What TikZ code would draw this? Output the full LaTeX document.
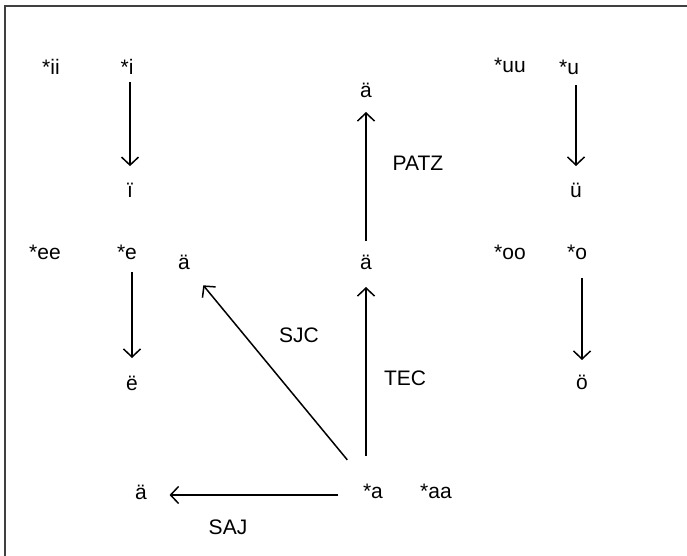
\documentclass[tikz,border=0pt]{standalone}
\usepackage{fontspec}
\setmainfont{Liberation Sans}
\usetikzlibrary{arrows.meta}
\begin{document}
\begin{tikzpicture}[x=1pt, y=-1pt, line width=1.4pt,
  vowel/.style={inner sep=0pt, font=\fontsize{21}{24}\selectfont},
  soundshift/.style={-{Straight Barb[length=8pt,width=17pt]}, line width=1.5pt}]
  \useasboundingbox (0,0) rectangle (687,556);
  % frame, only the top and left edges show
  \draw[line width=2.2pt, black!75] (5,556) -- (5,6) -- (687,6);
  % front vowels
  \node[vowel] (ii) at (51,67) {*ii};
  \node[vowel] (i) at (127,67) {*i};
  \node[vowel] (idia) at (130,190) {ï};
  \node[vowel] (ee) at (45,252) {*ee};
  \node[vowel] (e) at (127,252) {*e};
  \node[vowel] (edia) at (132,383) {ë};
  % back vowels
  \node[vowel] (uu) at (510,65) {*uu};
  \node[vowel] (u) at (569,67) {*u};
  \node[vowel] (udia) at (576,190) {ü};
  \node[vowel] (oo) at (510,252) {*oo};
  \node[vowel] (o) at (577,252) {*o};
  \node[vowel] (odia) at (582,382) {ö};
  % low vowels
  \node[vowel] (a) at (373,491) {*a};
  \node[vowel] (aa) at (436,491) {*aa};
  \node[vowel] (amid) at (366,262) {ä};
  \node[vowel] (atop) at (366,90) {ä};
  \node[vowel] (asjc) at (184,262) {ä};
  \node[vowel] (asaj) at (141,492) {ä};
  % rule names
  \node[vowel] (patz) at (418,163) {PATZ};
  \node[vowel] (tec) at (405,378) {TEC};
  \node[vowel] (sjc) at (299,335) {SJC};
  \node[vowel] (saj) at (228,527) {SAJ};
  % shifts
  \draw[soundshift, shorten <=7pt, shorten >=16pt] (idia |- i.south) -- (idia.north);
  \draw[soundshift, shorten <=12pt, shorten >=17pt] (edia |- e.south) -- (edia.north);
  \draw[soundshift, shorten <=10pt, shorten >=16pt] (udia |- u.south) -- (udia.north);
  \draw[soundshift, shorten <=18pt, shorten >=14pt] (odia |- o.south) -- (odia.north);
  \draw[soundshift, shorten <=27pt, shorten >=17pt] (amid |- a.north) -- (amid.south);
  \draw[soundshift, shorten <=13pt, shorten >=14pt] (atop |- amid.north) -- (atop.south);
  \draw[soundshift, shorten <=30pt, shorten >=20pt] (a) -- (asjc);
  \draw[soundshift, shorten <=24pt, shorten >=22pt] ([yshift=-4pt]a.west) -- ([yshift=-4pt]a.west -| asaj.east);
\end{tikzpicture}
\end{document}
